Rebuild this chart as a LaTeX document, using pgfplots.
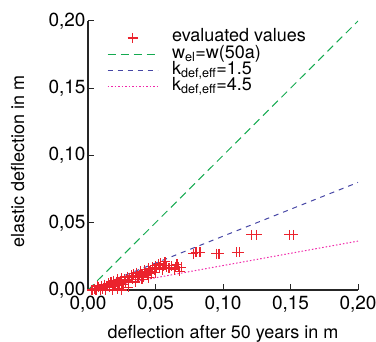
\documentclass[border=0pt]{standalone}
\usepackage{pgfplots}
\pgfplotsset{compat=1.18}
\usepackage{fontspec}
\setmainfont{TeX Gyre Heros}
\definecolor{ptred}{RGB}{235,35,45}
\definecolor{lgreen}{RGB}{20,170,80}
\definecolor{lblue}{RGB}{70,70,165}
\definecolor{lpink}{RGB}{240,40,170}
\pgfplotstableread{
x y
0.003 0.000
0.005 0.001
0.006 0.000
0.007 0.003
0.008 0.002
0.009 0.000
0.010 0.003
0.011 0.001
0.012 0.004
0.013 0.000
0.014 0.003
0.015 0.005
0.016 0.002
0.017 0.006
0.018 0.000
0.018 0.004
0.019 0.007
0.020 0.003
0.021 0.006
0.022 0.001
0.022 0.008
0.023 0.005
0.024 0.007
0.025 0.000
0.025 0.009
0.026 0.004
0.027 0.008
0.028 0.006
0.029 0.010
0.030 0.002
0.030 0.007
0.031 0.009
0.032 0.011
0.033 0.008
0.034 0.012
0.035 0.010
0.035 0.006
0.036 0.013
0.037 0.009
0.038 0.011
0.039 0.014
0.040 0.012
0.040 0.008
0.041 0.010
0.042 0.015
0.043 0.013
0.044 0.011
0.045 0.016
0.045 0.009
0.046 0.014
0.047 0.012
0.048 0.017
0.049 0.015
0.050 0.013
0.050 0.018
0.051 0.016
0.052 0.019
0.053 0.017
0.054 0.020
0.055 0.015
0.056 0.018
0.057 0.021
0.058 0.017
0.060 0.016
0.062 0.018
0.064 0.015
0.065 0.017
0.066 0.019
0.067 0.017
0.068 0.014
0.069 0.017
0.078 0.027
0.080 0.028
0.083 0.028
0.095 0.027
0.097 0.027
0.110 0.028
0.112 0.028
0.121 0.041
0.125 0.041
0.149 0.041
0.152 0.041
}\evaluated
\begin{document}
\begin{tikzpicture}
\begin{axis}[name=ax, scale only axis, width=270bp, height=269bp,
  xmin=0, xmax=0.2, ymin=0, ymax=0.2,
  axis x line*=bottom, axis y line*=left,
  axis line style={-, line width=1.2bp, black!85},
  tick align=inside, major tick length=6bp,
  tick style={line width=1bp, black!85},
  xtick={0,0.05,0.1,0.15,0.2}, ytick={0,0.05,0.1,0.15,0.2},
  scaled ticks=false,
  tick label style={font=\fontsize{19bp}{21bp}\selectfont,
    /pgf/number format/fixed, /pgf/number format/fixed zerofill,
    /pgf/number format/precision=2, /pgf/number format/use comma,
    /pgf/number format/assume math mode=true},
  xticklabel style={yshift=-3bp},
  yticklabel style={xshift=1bp},
  label style={font=\fontsize{18bp}{20bp}\selectfont},
  xlabel={deflection after 50 years in m},
  xlabel style={at={(axis description cs:0.5,-0.1785)}, anchor=base},
  ylabel={elastic deflection in m},
  ylabel style={at={(axis description cs:-0.237,0.478)}, anchor=base, rotate=0},
  legend cell align=left,
  legend image code/.code={\draw[mark repeat=2,mark phase=2,#1] plot coordinates {(0bp,0bp) (25bp,0bp) (50bp,0bp)};},
  legend style={draw=none, fill=none, inner sep=0pt, at={(axis description cs:0.070,0.968)}, anchor=north west,
    font=\fontsize{18bp}{20bp}\selectfont, column sep=14bp,
    nodes={text height=12bp, text depth=4.3bp, inner ysep=0pt, inner xsep=0pt}},
]
\addplot[only marks, mark=+, mark size=5bp, color=ptred, line width=1.2bp] table {\evaluated};
\addlegendentry{evaluated values}
\addplot[lgreen, line width=1bp, dash pattern=on 8bp off 5bp] coordinates {(0,0) (0.2,0.2)};
\addlegendentry{w\textsubscript{el}=w(50a)}
\addplot[lblue, line width=1bp, dash pattern=on 5bp off 5bp] coordinates {(0,0) (0.2,0.08)};
\addlegendentry{k\textsubscript{def,eff}=1.5}
\addplot[lpink, line width=1bp, dash pattern=on 1.5bp off 2bp] coordinates {(0,0) (0.2,0.03636)};
\addlegendentry{k\textsubscript{def,eff}=4.5}
\end{axis}
\pgfresetboundingbox
\path[use as bounding box] ([xshift=-88bp,yshift=-52bp]ax.south west) rectangle ([xshift=18bp,yshift=21bp]ax.north east);
\end{tikzpicture}
\end{document}
